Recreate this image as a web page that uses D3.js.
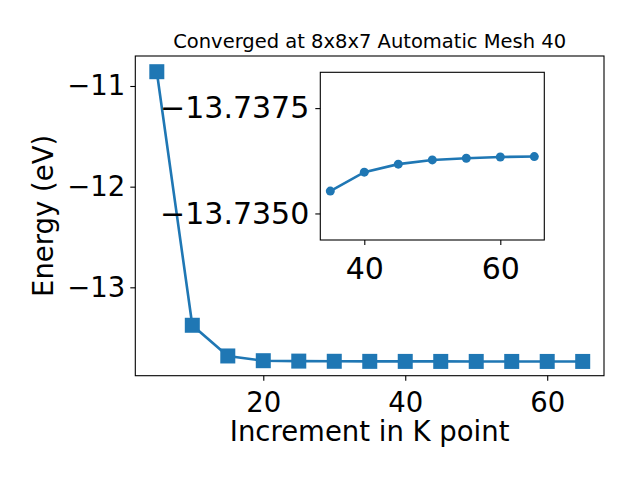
<!DOCTYPE html>
<html>
<head>
<meta charset="utf-8">
<script src="https://cdn.jsdelivr.net/npm/d3@7"></script>
<style>
  body { margin: 0; background: #fff; }
  text { font-family: "DejaVu Sans", sans-serif; fill: #000; }
</style>
</head>
<body>
<div id="chart"></div>
<script>
// data
const increments = [5, 10, 15, 20, 25, 30, 35, 40, 45, 50, 55, 60, 65];
const energies = [-10.858, -13.377, -13.682, -13.729, -13.733, -13.7348,
    -13.73553, -13.73598, -13.73617, -13.73627, -13.73631, -13.73634, -13.73635];
const insetIncrements = [35, 40, 45, 50, 55, 60, 65];
const insetEnergies = [-13.73553, -13.73598, -13.73617, -13.73627, -13.73631, -13.73634, -13.73635];
const xTicks = [20, 40, 60];
const yTicks = [-11, -12, -13];
const insetXTicks = [40, 60];
const insetYTicks = [-13.7375, -13.7350];
const title = "Converged at 8x8x7 Automatic Mesh 40";
const color = "#1f77b4";

const W = 640, H = 480;
const main = { left: 135.3, top: 56, right: 604, bottom: 375.7 };
const inset = { left: 320.3, top: 72.3, right: 544.3, bottom: 240 };

const svg = d3.select("#chart").append("svg")
    .attr("width", W)
    .attr("height", H);

const minus = s => String(s).replace("-", "\u2212");

// main scales
const x = d3.scaleLinear().domain([1.97, 68.0]).range([main.left, main.right]);
const y = d3.scaleLinear().domain([-10.702, -13.878]).range([main.top, main.bottom]);

const pts = increments.map((d, i) => ({ x: d, y: energies[i] }));

const line = d3.line().x(d => x(d.x)).y(d => y(d.y));

svg.append("path")
    .datum(pts)
    .attr("fill", "none")
    .attr("stroke", color)
    .attr("stroke-width", 2.6)
    .attr("d", line);

svg.selectAll(".sq")
    .data(pts)
    .enter()
    .append("rect")
    .attr("class", "sq")
    .attr("x", d => x(d.x) - 7.5)
    .attr("y", d => y(d.y) - 7.5)
    .attr("width", 15)
    .attr("height", 15)
    .attr("fill", color);

// main axes
const xAxis = d3.axisBottom(x).tickValues(xTicks).tickSize(5).tickPadding(5).tickFormat(d3.format("d"));
const gx = svg.append("g")
    .attr("transform", `translate(0,${main.bottom})`)
    .call(xAxis);
gx.selectAll("text").style("font-size", "27.5px").attr("dy", "0.95em");

const yAxis = d3.axisLeft(y).tickValues(yTicks).tickSize(5).tickPadding(5).tickFormat(d => minus(d));
const gy = svg.append("g")
    .attr("transform", `translate(${main.left},0)`)
    .call(yAxis);
gy.selectAll("text").style("font-size", "27.5px");

[gx, gy].forEach(g => {
    g.select(".domain").remove();
    g.selectAll("line").attr("stroke", "#000").attr("stroke-width", 1.1);
});

svg.append("rect")
    .attr("x", main.left)
    .attr("y", main.top)
    .attr("width", main.right - main.left)
    .attr("height", main.bottom - main.top)
    .attr("fill", "none")
    .attr("stroke", "#000")
    .attr("stroke-width", 1.1);

// labels
svg.append("text")
    .attr("x", (main.left + main.right) / 2)
    .attr("y", 440.7)
    .attr("text-anchor", "middle")
    .style("font-size", "27.5px")
    .text("Increment in K point");

svg.append("text")
    .attr("transform", `translate(53,${(main.top + main.bottom) / 2}) rotate(-90)`)
    .attr("text-anchor", "middle")
    .style("font-size", "27.5px")
    .text("Energy (eV)");

svg.append("text")
    .attr("x", (main.left + main.right) / 2)
    .attr("y", 48.3)
    .attr("text-anchor", "middle")
    .style("font-size", "19.5px")
    .text(title);

// inset
const xi = d3.scaleLinear().domain([33.53, 66.47]).range([inset.left, inset.right]);
const yi = d3.scaleLinear().domain([-13.73835, -13.73437]).range([inset.top, inset.bottom]);

svg.append("rect")
    .attr("x", inset.left)
    .attr("y", inset.top)
    .attr("width", inset.right - inset.left)
    .attr("height", inset.bottom - inset.top)
    .attr("fill", "#fff");

const ipts = insetIncrements.map((d, i) => ({ x: d, y: insetEnergies[i] }));

svg.append("path")
    .datum(ipts)
    .attr("fill", "none")
    .attr("stroke", color)
    .attr("stroke-width", 2.6)
    .attr("d", d3.line().x(d => xi(d.x)).y(d => yi(d.y)));

svg.selectAll(".dot")
    .data(ipts)
    .enter()
    .append("circle")
    .attr("class", "dot")
    .attr("cx", d => xi(d.x))
    .attr("cy", d => yi(d.y))
    .attr("r", 4.5)
    .attr("fill", color);

const gxi = svg.append("g")
    .attr("transform", `translate(0,${inset.bottom})`)
    .call(d3.axisBottom(xi).tickValues(insetXTicks).tickSize(5).tickPadding(5).tickFormat(d3.format("d")));
gxi.selectAll("text").style("font-size", "30px").attr("dy", "0.95em");

const gyi = svg.append("g")
    .attr("transform", `translate(${inset.left},0)`)
    .call(d3.axisLeft(yi).tickValues(insetYTicks).tickSize(5).tickPadding(6)
        .tickFormat(d => minus(d3.format(".4f")(d))));
gyi.selectAll("text").style("font-size", "30px");

[gxi, gyi].forEach(g => {
    g.select(".domain").remove();
    g.selectAll("line").attr("stroke", "#000").attr("stroke-width", 1.1);
});

svg.append("rect")
    .attr("x", inset.left)
    .attr("y", inset.top)
    .attr("width", inset.right - inset.left)
    .attr("height", inset.bottom - inset.top)
    .attr("fill", "none")
    .attr("stroke", "#000")
    .attr("stroke-width", 1.1);
</script>
</body>
</html>
